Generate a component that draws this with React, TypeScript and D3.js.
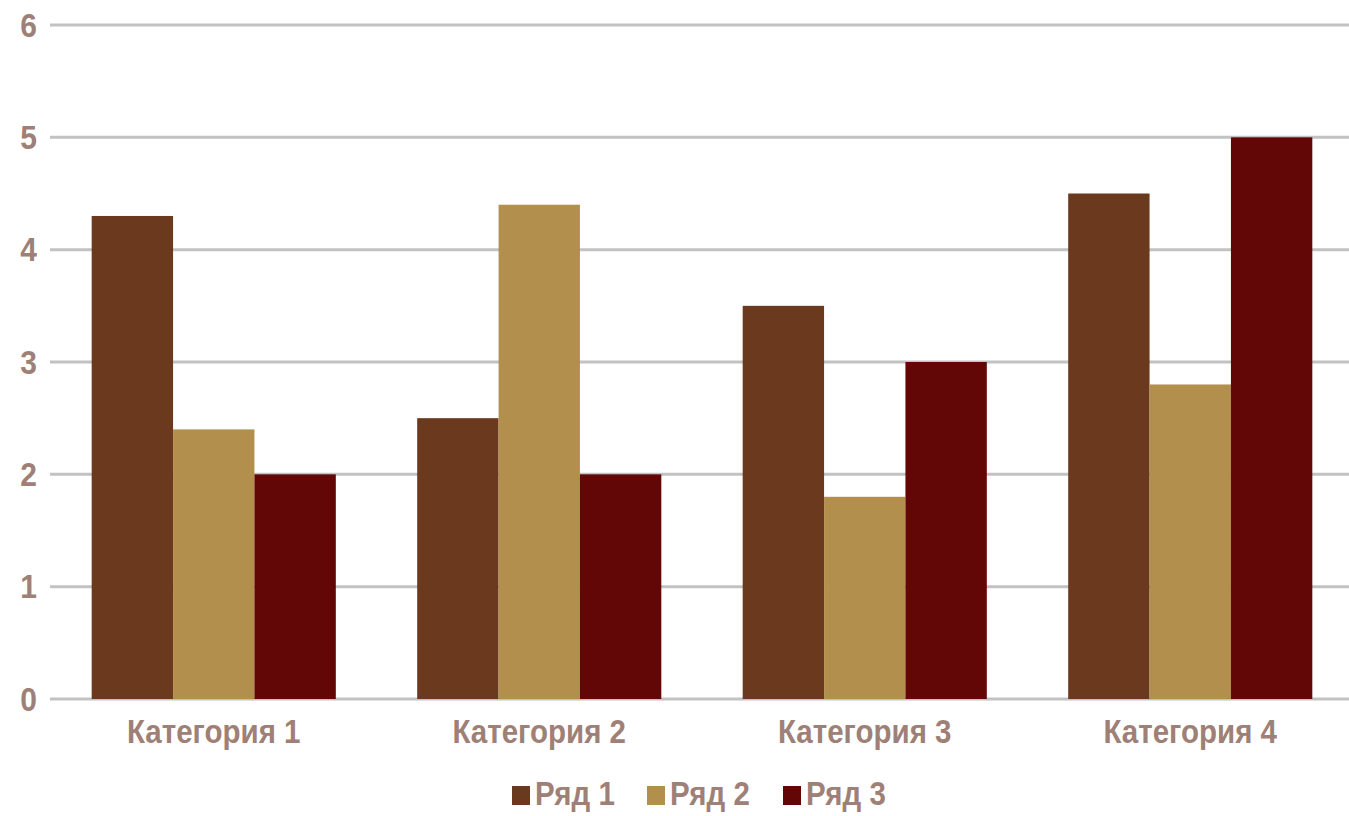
import React from "react";
import * as d3 from "d3";

const categories = ["Категория 1", "Категория 2", "Категория 3", "Категория 4"];
const seriesNames = ["Ряд 1", "Ряд 2", "Ряд 3"];
const series1 = [4.3, 2.5, 3.5, 4.5];
const series2 = [2.4, 4.4, 1.8, 2.8];
const series3 = [2.0, 2.0, 3.0, 5.0];
const yTicks = [0, 1, 2, 3, 4, 5, 6];
const colors = ["#6B3A1E", "#B38F4E", "#620606"];

const W = 1349;
const H = 816;
const textColor = "#9E8076";
const font = "'Liberation Sans', Arial, sans-serif";

export default function App() {
  const seriesValues = [series1, series2, series3];
  const y = d3.scaleLinear().domain([0, 6]).range([699, 25]);
  const x0 = d3.scaleBand<string>().domain(categories).range([51, 1353]).paddingInner(0.25).paddingOuter(0.125);
  const x1 = d3.scaleBand<string>().domain(seriesNames).range([0, x0.bandwidth()]).padding(0);
  const legendX = [512, 647, 783];

  return (
    <svg width={W} height={H} style={{ position: "absolute", left: 0, top: 0, background: "#fff" }}>
      {yTicks.map((t) => (
        <g key={t}>
          <line x1={50} x2={1349} y1={y(t)} y2={y(t)} stroke="#C2C2C2" strokeWidth={3} />
          <text
            x={37}
            y={y(t)}
            textAnchor="end"
            fill={textColor}
            fontFamily={font}
            fontWeight="bold"
            fontSize={30}
            transform={`translate(0 ${y(t)}) scale(1 1.12) translate(0 ${-y(t)})`}
            dominantBaseline="central"
          >
            {t}
          </text>
        </g>
      ))}
      {categories.map((c, ci) => (
        <g key={c} transform={`translate(${x0(c)},0)`}>
          {seriesNames.map((s, si) => {
            const v = seriesValues[si][ci];
            return (
              <rect
                key={s}
                x={x1(s)}
                y={y(v)}
                width={x1.bandwidth()}
                height={y(0) - y(v)}
                fill={colors[si]}
              />
            );
          })}
        </g>
      ))}
      {categories.map((c) => {
        const cx = (x0(c) as number) + x0.bandwidth() / 2;
        const by = 743;
        return (
          <text
            key={c}
            x={cx}
            y={by}
            textAnchor="middle"
            fill={textColor}
            fontFamily={font}
            fontWeight="bold"
            fontSize={29.5}
            transform={`translate(0 ${by}) scale(1 1.12) translate(0 ${-by})`}
          >
            {c}
          </text>
        );
      })}
      {seriesNames.map((s, si) => {
        const by = 805;
        return (
          <g key={s}>
            <rect x={legendX[si]} y={786} width={18} height={19} fill={colors[si]} />
            <text
              x={legendX[si] + 23}
              y={by}
              fill={textColor}
              fontFamily={font}
              fontWeight="bold"
              fontSize={29.5}
              transform={`translate(0 ${by}) scale(1 1.12) translate(0 ${-by})`}
            >
              {s}
            </text>
          </g>
        );
      })}
    </svg>
  );
}
